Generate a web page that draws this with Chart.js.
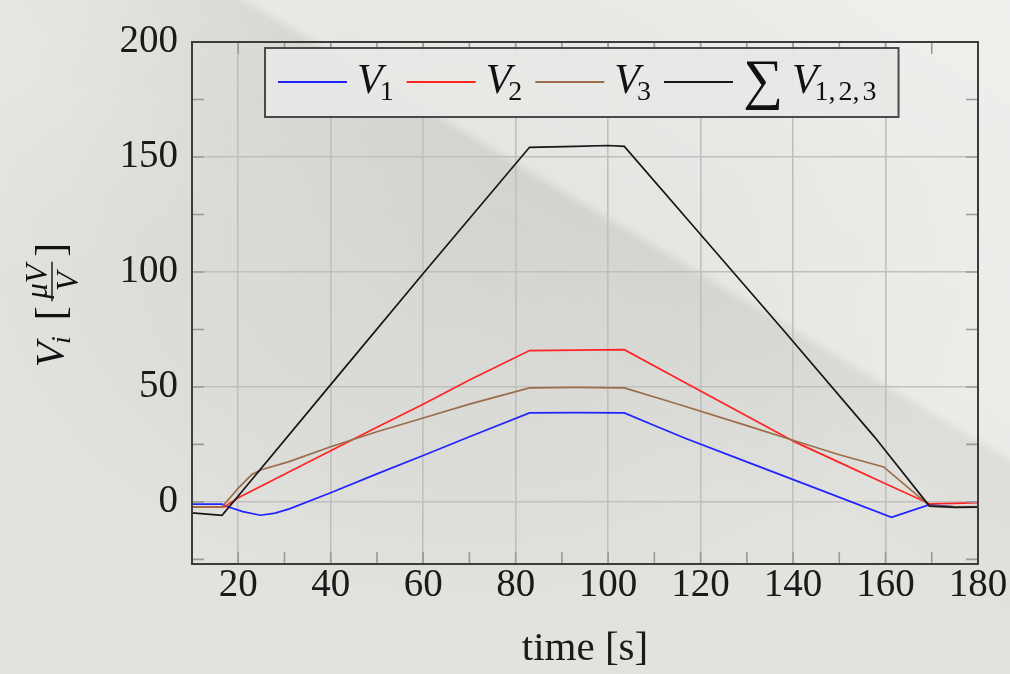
<!DOCTYPE html>
<html>
<head>
<meta charset="utf-8">
<script src="https://cdn.jsdelivr.net/npm/chart.js@4/dist/chart.umd.min.js"></script>
<style>
  html, body { margin: 0; padding: 0; width: 1010px; height: 674px; overflow: hidden; }
  body {
    background:
      linear-gradient(31deg, rgba(0,0,0,0) 48%, rgba(0,0,0,0.025) 63.6%, rgba(255,255,255,0.32) 64.6%, rgba(255,255,255,0.42) 100%),
      radial-gradient(ellipse 520px 380px at 470px 250px, rgba(0,0,0,0.05) 0, rgba(0,0,0,0.03) 55%, rgba(0,0,0,0) 100%),
      radial-gradient(circle at 0 0, rgba(255,255,255,0.18) 0, rgba(255,255,255,0) 300px),
      #e2e2de;
  }
  #wrap { position: absolute; left: 0; top: 0; width: 1010px; height: 674px; }
</style>
</head>
<body>
<div id="wrap"><canvas id="chart" width="1010" height="674"></canvas></div>
<script>
// axes
const X_MIN = 10, X_MAX = 180;
const Y_MIN = -27, Y_MAX = 200;
const X_TICKS = [20, 40, 60, 80, 100, 120, 140, 160, 180];
const X_MINOR = [30, 50, 70, 90, 110, 130, 150, 170];
const Y_TICKS = [0, 50, 100, 150, 200];
const Y_MINOR = [-25, 25, 75, 125, 175];

// V1 (blue)
const T1 = [10, 16.5, 17.6, 21, 24.8, 28, 31.2, 40, 50, 60, 70, 83, 93, 103.5, 110, 116.8, 130, 145, 161.3, 169.5, 175, 180];
const V1 = [-1, -1, -2, -4.2, -5.8, -4.9, -2.9, 4, 12.2, 20.2, 28.3, 38.7, 38.8, 38.7, 33.2, 27.6, 17.4, 5.9, -6.7, -1.2, -2.2, -2.1];

// V2 (red)
const T2 = [10, 17, 20, 30, 40, 50, 60, 70, 83, 93, 103.5, 115, 125, 140.5, 150, 160, 169.5, 175, 180];
const V2 = [-2.2, -2.2, 1.8, 12, 22.3, 32.5, 42.5, 53, 65.8, 66, 66.2, 53.7, 42.8, 26, 17.2, 7.9, -0.8, -0.6, -0.3];

// V3 (brown)
const T3 = [10, 16.5, 20, 23, 25, 31, 40, 50, 60, 70, 83, 93, 103.5, 115, 130, 140.5, 150, 159.6, 169.5, 175, 180];
const V3 = [-2.2, -2.2, 6, 12, 14, 17.5, 24, 30.5, 36.5, 42.5, 49.6, 49.8, 49.6, 42.6, 33.2, 26.5, 20.5, 15.2, -1.6, -2.1, -2];

// sum (black)
const T4 = [10, 16.5, 20, 40, 60, 83, 93, 100, 103.5, 120, 138.2, 157.6, 169.5, 175, 180];
const V4 = [-4.8, -5.8, 2.6, 51, 99.3, 154.2, 154.6, 155, 154.6, 116.3, 74, 28.3, -1.8, -2.4, -2.3];

const SERIES = [
  { t: T1, v: V1, color: "#2323ff" },
  { t: T2, v: V2, color: "#ff2424" },
  { t: T3, v: V3, color: "#9b6d4a" },
  { t: T4, v: V4, color: "#161616" },
];
const LEGEND_LABELS = [
  { main: "V", sub: "1" },
  { main: "V", sub: "2" },
  { main: "V", sub: "3" },
  { pre: "\u2211", main: "V", sub: "1,2,3" },
];

const SERIF = '"Liberation Serif", "DejaVu Serif", serif';
const GRID = "#bfbfbd";
const TICK = "#9a9a98";
const FRAME = "#3c3c3c";

function drawFrameAndTicks(chart) {
  const { ctx, chartArea: a } = chart;
  const xs = chart.scales.x, ys = chart.scales.y;
  const len = 12;
  ctx.save();
  ctx.strokeStyle = TICK;
  ctx.lineWidth = 1.6;
  ctx.beginPath();
  [...X_TICKS, ...X_MINOR].forEach((v) => {
    const px = xs.getPixelForValue(v);
    ctx.moveTo(px, a.bottom); ctx.lineTo(px, a.bottom - len);
    ctx.moveTo(px, a.top); ctx.lineTo(px, a.top + len);
  });
  [...Y_TICKS, ...Y_MINOR].forEach((v) => {
    const py = ys.getPixelForValue(v);
    ctx.moveTo(a.left, py); ctx.lineTo(a.left + len, py);
    ctx.moveTo(a.right, py); ctx.lineTo(a.right - len, py);
  });
  ctx.stroke();
  ctx.strokeStyle = FRAME;
  ctx.lineWidth = 2;
  ctx.strokeRect(a.left, a.top, a.right - a.left, a.bottom - a.top);
  ctx.restore();
}

// subscript text, commas get a little extra room like TeX
function subText(ctx, s, x, y, draw) {
  let cx = x;
  for (const ch of s) {
    if (draw) ctx.fillText(ch, cx, y);
    cx += ctx.measureText(ch).width + (ch === "," ? 3 : 0);
  }
  return cx - x;
}

// label like V_1 or ∑V_{1,2,3}; returns width, draws if draw=true
function mathLabel(ctx, lab, x, y, draw) {
  let cx = x;
  if (lab.pre) {
    ctx.font = '56px ' + SERIF;
    if (draw) ctx.fillText(lab.pre, cx, y + 5);
    cx += ctx.measureText(lab.pre).width + 9;
  }
  ctx.font = 'italic 42px ' + SERIF;
  if (draw) ctx.fillText(lab.main, cx, y);
  cx += ctx.measureText(lab.main).width - 3;
  ctx.font = '28px ' + SERIF;
  cx += subText(ctx, lab.sub, cx, y + 7, draw);
  return cx - x;
}

function drawLegend(chart) {
  const { ctx, chartArea: a } = chart;
  const left = a.left + 73, top = a.top + 6, h = 69;
  const lineLen = 69, padL = 13, gapLine = 10, gapItem = 13, padR = 22;
  const baseY = top + 45;
  const midY = top + 34;
  ctx.save();
  ctx.textBaseline = 'alphabetic';
  let w = padL;
  LEGEND_LABELS.forEach((lab, i) => {
    w += lineLen + gapLine + mathLabel(ctx, lab, 0, 0, false);
    if (i < LEGEND_LABELS.length - 1) w += gapItem;
  });
  w += padR;
  ctx.fillStyle = "rgba(231,231,229,0.97)";
  ctx.fillRect(left, top, w, h);
  ctx.strokeStyle = "#4a4a4a";
  ctx.lineWidth = 2;
  ctx.strokeRect(left, top, w, h);
  let x = left + padL;
  LEGEND_LABELS.forEach((lab, i) => {
    ctx.strokeStyle = SERIES[i].color;
    ctx.lineWidth = 1.8;
    ctx.beginPath();
    ctx.moveTo(x, midY); ctx.lineTo(x + lineLen, midY);
    ctx.stroke();
    x += lineLen + gapLine;
    ctx.fillStyle = "#111";
    x += mathLabel(ctx, lab, x, baseY, true) + gapItem;
  });
  ctx.restore();
}

function drawYTitle(chart) {
  const { ctx, chartArea: a } = chart;
  const cx = 63, cy = (a.top + a.bottom) / 2 + 2;
  ctx.save();
  ctx.translate(cx, cy);
  ctx.rotate(-Math.PI / 2);
  ctx.fillStyle = "#111";
  ctx.textBaseline = 'alphabetic';
  const fBig = 'italic 41px ' + SERIF, fSub = 'italic 28px ' + SERIF;
  const fBr = '42px ' + SERIF, fFr = 'italic 31px ' + SERIF;
  ctx.font = fBig; const wV = ctx.measureText("V").width;
  ctx.font = fSub; const wI = ctx.measureText("i").width;
  ctx.font = fBr; const wL = ctx.measureText("[").width, wR = ctx.measureText("]").width;
  ctx.font = fFr; const wNum = ctx.measureText("\u03bcV").width, wDen = ctx.measureText("V").width;
  const wFr = Math.max(wNum, wDen) + 5;
  const total = wV - 2 + wI + 16 + wL + 5 + wFr + 5 + wR;
  let x = -total / 2;
  ctx.font = fBig; ctx.fillText("V", x, 0); x += wV - 2;
  ctx.font = fSub; ctx.fillText("i", x, 7); x += wI + 16;
  ctx.font = fBr; ctx.fillText("[", x, 1); x += wL + 5;
  ctx.font = fFr;
  ctx.fillText("\u03bcV", x + (wFr - wNum) / 2, -16);
  ctx.fillText("V", x + (wFr - wDen) / 2, 15);
  ctx.strokeStyle = "#111"; ctx.lineWidth = 1.4;
  ctx.beginPath(); ctx.moveTo(x, -11); ctx.lineTo(x + wFr, -11); ctx.stroke();
  x += wFr + 5;
  ctx.font = fBr; ctx.fillText("]", x, 1);
  ctx.restore();
}

const decor = {
  id: 'decor',
  afterDraw(chart) {
    drawFrameAndTicks(chart);
    drawLegend(chart);
    drawYTitle(chart);
  },
};

new Chart(document.getElementById('chart'), {
  type: 'line',
  data: {
    datasets: SERIES.map((s, i) => ({
      data: s.t.map((t, k) => ({ x: t, y: s.v[k] })),
      borderColor: s.color,
      borderWidth: 1.7,
      pointRadius: 0,
      tension: 0,
      fill: false,
      order: SERIES.length - i,
    })),
  },
  options: {
    responsive: false,
    animation: false,
    events: [],
    layout: { padding: { top: 42, right: 32, left: 0, bottom: 0 } },
    plugins: { legend: { display: false }, tooltip: { enabled: false } },
    scales: {
      x: {
        type: 'linear', min: X_MIN, max: X_MAX,
        afterBuildTicks: (s) => { s.ticks = X_TICKS.map((v) => ({ value: v })); },
        afterFit: (s) => { s.height = 110; },
        grid: { color: GRID, lineWidth: 1.6, drawTicks: false },
        border: { display: false },
        ticks: { color: "#1a1a1a", padding: -2, maxRotation: 0, font: { family: SERIF, size: 39 } },
        title: { display: true, text: "time [s]", color: "#1a1a1a", padding: { top: 0, bottom: 0 },
                 font: { family: SERIF, size: 41 } },
      },
      y: {
        type: 'linear', min: Y_MIN, max: Y_MAX,
        afterBuildTicks: (s) => { s.ticks = Y_TICKS.map((v) => ({ value: v })); },
        afterFit: (s) => { s.width = 192; },
        grid: { color: GRID, lineWidth: 1.6, drawTicks: false },
        border: { display: false },
        ticks: { color: "#1a1a1a", padding: 14, font: { family: SERIF, size: 39 } },
      },
    },
  },
  plugins: [decor],
});
</script>
</body>
</html>
